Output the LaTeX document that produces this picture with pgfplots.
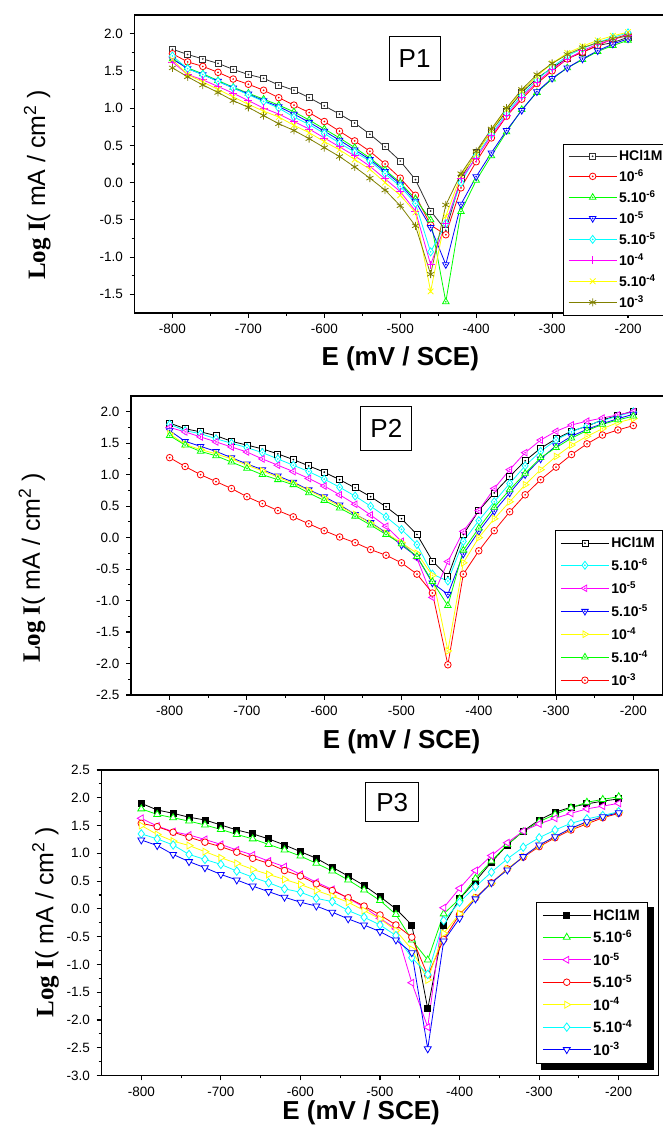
\documentclass[border=0pt]{standalone}
\usepackage{fontspec}
\setmainfont{Liberation Sans}
\newfontfamily\timesfont{Liberation Serif}
\usepackage{pgfplots}
\usepackage{pgfplotstable}
\pgfplotsset{compat=1.18}

% open marks with a small dot in the centre (Origin style)
\pgfdeclareplotmark{dsq}{\pgfuseplotmark{square*}\pgfpathcircle{\pgfpointorigin}{0.4pt}\pgfusepathqstroke}
\pgfdeclareplotmark{dcirc}{\pgfuseplotmark{*}\pgfpathcircle{\pgfpointorigin}{0.4pt}\pgfusepathqstroke}
\pgfdeclareplotmark{dtri}{\pgfuseplotmark{triangle*}\pgfpathcircle{\pgfpointorigin}{0.4pt}\pgfusepathqstroke}
\pgfdeclareplotmark{ddia}{\pgfuseplotmark{diamond*}\pgfpathcircle{\pgfpointorigin}{0.4pt}\pgfusepathqstroke}

\definecolor{ogreen}{RGB}{0,255,0}
\definecolor{oyellow}{RGB}{255,255,0}
\definecolor{ocyan}{RGB}{0,255,255}
\definecolor{omag}{RGB}{255,0,255}
\definecolor{oblue}{RGB}{0,0,255}
\definecolor{ored}{RGB}{255,0,0}
\definecolor{oolive}{RGB}{128,128,0}
\definecolor{ogray}{RGB}{50,50,50}

\pgfplotstableread{
E hcl a b c d e f g
-800 1.79 1.73 1.66 1.66 1.70 1.62 1.65 1.54
-780 1.72 1.62 1.54 1.53 1.53 1.45 1.45 1.42
-760 1.66 1.56 1.46 1.45 1.45 1.38 1.35 1.31
-740 1.60 1.48 1.37 1.36 1.36 1.29 1.25 1.21
-720 1.52 1.39 1.28 1.27 1.27 1.20 1.15 1.10
-700 1.45 1.32 1.20 1.19 1.18 1.10 1.05 1.01
-680 1.40 1.24 1.12 1.10 1.09 1.00 0.96 0.90
-660 1.31 1.14 1.04 1.02 1.00 0.92 0.88 0.79
-640 1.24 1.04 0.95 0.92 0.88 0.82 0.77 0.70
-620 1.14 0.94 0.84 0.81 0.78 0.72 0.67 0.59
-600 1.03 0.82 0.72 0.69 0.66 0.60 0.55 0.47
-580 0.92 0.69 0.60 0.57 0.53 0.48 0.44 0.35
-560 0.80 0.56 0.47 0.44 0.41 0.36 0.31 0.21
-540 0.65 0.42 0.33 0.31 0.29 0.22 0.18 0.06
-520 0.48 0.25 0.17 0.15 0.12 0.05 0.00 -0.10
-500 0.29 0.06 0.00 -0.02 -0.05 -0.12 -0.17 -0.31
-480 0.04 -0.17 -0.22 -0.25 -0.28 -0.38 -0.40 -0.58
-460 -0.38 -0.57 -0.50 -0.60 -0.93 -1.10 -1.46 -1.23
-440 -0.64 -0.70 -1.60 -1.10 -0.55 -0.55 -0.45 -0.30
-420 0.06 -0.07 -0.39 -0.29 0.00 0.05 0.10 0.12
-400 0.40 0.28 0.03 0.08 0.36 0.33 0.38 0.42
-380 0.69 0.60 0.36 0.40 0.65 0.63 0.70 0.72
-360 0.96 0.89 0.68 0.70 0.93 0.90 0.98 1.00
-340 1.21 1.12 0.98 0.97 1.17 1.15 1.23 1.25
-320 1.40 1.33 1.21 1.22 1.38 1.35 1.43 1.45
-300 1.54 1.50 1.39 1.40 1.55 1.52 1.60 1.60
-280 1.67 1.66 1.54 1.54 1.70 1.66 1.74 1.72
-260 1.75 1.75 1.65 1.66 1.80 1.77 1.83 1.81
-240 1.84 1.84 1.76 1.77 1.88 1.86 1.91 1.88
-220 1.88 1.93 1.84 1.86 1.95 1.92 1.97 1.93
-200 1.95 1.99 1.91 1.93 2.01 1.98 2.02 1.97
}\pone

\pgfplotstableread{
E hcl c m b y g r
-800 1.82 1.80 1.75 1.70 1.65 1.62 1.27
-780 1.73 1.70 1.68 1.53 1.48 1.47 1.13
-760 1.68 1.65 1.60 1.45 1.40 1.37 1.00
-740 1.62 1.57 1.52 1.37 1.33 1.30 0.89
-720 1.53 1.50 1.44 1.27 1.25 1.20 0.78
-700 1.47 1.43 1.36 1.17 1.15 1.10 0.65
-680 1.41 1.35 1.25 1.08 1.06 1.00 0.54
-660 1.33 1.25 1.15 0.98 0.96 0.92 0.43
-640 1.24 1.15 1.05 0.88 0.86 0.84 0.33
-620 1.14 1.05 0.94 0.76 0.75 0.71 0.22
-600 1.04 0.93 0.82 0.65 0.63 0.59 0.11
-580 0.92 0.80 0.68 0.52 0.50 0.47 0.01
-560 0.79 0.66 0.53 0.37 0.37 0.34 -0.08
-540 0.65 0.50 0.36 0.24 0.23 0.20 -0.19
-520 0.49 0.33 0.18 0.08 0.07 0.05 -0.28
-500 0.30 0.13 -0.06 -0.12 -0.08 -0.10 -0.40
-480 0.05 -0.11 -0.33 -0.30 -0.25 -0.30 -0.58
-460 -0.37 -0.58 -0.95 -0.72 -0.60 -0.70 -0.88
-440 -0.62 -0.69 -0.38 -0.90 -1.80 -1.08 -2.02
-420 0.05 -0.06 0.10 -0.26 -0.40 -0.20 -0.58
-400 0.43 0.27 0.43 0.10 0.00 0.15 -0.21
-380 0.71 0.57 0.78 0.42 0.30 0.48 0.11
-360 0.97 0.86 1.08 0.71 0.57 0.76 0.41
-340 1.22 1.14 1.35 1.00 0.84 1.02 0.68
-320 1.42 1.37 1.55 1.25 1.08 1.27 0.92
-300 1.57 1.55 1.69 1.46 1.29 1.43 1.12
-280 1.69 1.68 1.79 1.61 1.47 1.58 1.32
-260 1.77 1.78 1.85 1.72 1.61 1.70 1.49
-240 1.87 1.86 1.90 1.81 1.73 1.80 1.63
-220 1.94 1.93 1.95 1.89 1.83 1.87 1.71
-200 2.01 2.00 2.00 1.96 1.89 1.93 1.78
}\ptwo

\pgfplotstableread{
E hcl g m r y c b
-800 1.90 1.80 1.63 1.54 1.50 1.35 1.24
-780 1.78 1.70 1.49 1.48 1.34 1.26 1.14
-760 1.72 1.64 1.39 1.38 1.22 1.15 0.98
-740 1.65 1.58 1.33 1.29 1.14 0.98 0.85
-720 1.60 1.51 1.25 1.20 1.03 0.89 0.74
-700 1.51 1.43 1.16 1.12 0.92 0.80 0.62
-680 1.42 1.34 1.06 1.02 0.82 0.68 0.52
-660 1.35 1.26 0.97 0.91 0.71 0.57 0.41
-640 1.26 1.16 0.86 0.82 0.62 0.47 0.31
-620 1.15 1.06 0.76 0.69 0.53 0.36 0.21
-600 1.03 0.95 0.62 0.59 0.44 0.30 0.12
-580 0.91 0.82 0.48 0.45 0.33 0.19 0.05
-560 0.75 0.68 0.35 0.33 0.23 0.13 -0.06
-540 0.59 0.52 0.19 0.20 0.12 -0.03 -0.18
-520 0.42 0.34 0.03 0.05 -0.03 -0.15 -0.29
-500 0.22 0.15 -0.17 -0.11 -0.18 -0.29 -0.41
-480 0.00 -0.10 -0.36 -0.29 -0.39 -0.48 -0.56
-460 -0.29 -0.56 -1.33 -0.51 -0.73 -0.88 -0.79
-440 -1.80 -0.92 -2.13 -1.20 -1.28 -1.18 -2.52
-420 -0.30 -0.09 0.02 -0.55 -0.44 -0.21 -0.58
-400 0.18 0.18 0.37 -0.10 -0.09 0.12 -0.17
-380 0.50 0.55 0.69 0.20 0.20 0.40 0.18
-360 0.84 0.86 0.96 0.47 0.46 0.66 0.47
-340 1.15 1.16 1.19 0.72 0.72 0.90 0.70
-320 1.40 1.39 1.40 0.93 0.94 1.11 0.94
-300 1.60 1.57 1.53 1.12 1.14 1.28 1.15
-280 1.74 1.70 1.63 1.28 1.30 1.42 1.30
-260 1.83 1.82 1.72 1.42 1.44 1.54 1.45
-240 1.89 1.92 1.80 1.53 1.56 1.62 1.57
-220 1.94 1.97 1.85 1.64 1.66 1.68 1.66
-200 1.98 2.02 1.90 1.72 1.74 1.75 1.73
}\pthree

\tikzset{
  tbox/.style={draw=black, line width=0.9pt, fill=white, minimum width=51pt, minimum height=44pt, inner sep=0pt, font=\fontsize{26}{26}\selectfont},
}

\pgfplotsset{
  pol/.style={
    scale only axis,
    xmin=-850, xmax=-150,
    xtick={-800,-700,...,-200},
    minor x tick num=1, minor y tick num=1,
    tick align=outside, xtick pos=bottom, ytick pos=left,
    major tick length=5pt, minor tick length=3pt,
    tick style={black, line width=1.1pt},
    axis line style={line width=1.6pt},
    tick label style={font=\fontsize{13.5}{13.5}\selectfont},
    /pgf/number format/assume math mode=true,
    yticklabel style={/pgf/number format/fixed, /pgf/number format/fixed zerofill,
      /pgf/number format/precision=1, xshift=-3pt},
    xticklabel style={yshift=-3pt},
    xlabel={\bfseries E (mV / SCE)},
    ylabel={{\timesfont\bfseries Log I}( mA / cm\textsuperscript{2} )},
    xlabel style={font=\fontsize{26}{26}\selectfont, anchor=center},
    ylabel style={font=\fontsize{25}{25}\selectfont, anchor=center},
    every axis plot/.append style={line width=0.8pt},
    legend cell align=left,
    legend image code/.code={\draw[mark repeat=2,mark phase=2] plot coordinates {(0pt,0pt) (24pt,0pt) (48pt,0pt)};},
  },
}

\begin{document}
\begin{tikzpicture}

% ---------- P1 ----------
\begin{axis}[pol,
  at={(134.5pt,818pt)}, anchor=south west, width=531.5pt, height=298pt,
  ymin=-1.75, ymax=2.25, ytick={-1.5,-1,...,2},
  xlabel style={at={(axis description cs:0.5,-0.155)}},
  ylabel style={at={(axis description cs:-0.183,0.43)}},
  legend style={at={(rel axis cs:0.806,0.567)}, anchor=north west, draw=black, line width=0.8pt,
    font=\bfseries\fontsize{14}{14}\selectfont, row sep=3.5pt, inner xsep=5pt, inner ysep=4pt},
]
\addplot[color=ogray, mark=dsq, mark size=3pt, mark options={fill=white}] table[x=E,y=hcl]{\pone};
\addplot[color=ored, mark=dcirc, mark size=3.3pt, mark options={fill=white}] table[x=E,y=a]{\pone};
\addplot[color=ogreen, mark=dtri, mark size=3.8pt, mark options={fill=white}] table[x=E,y=b]{\pone};
\addplot[color=oblue, mark=dtri, mark size=3.8pt, mark options={fill=white, rotate=180}] table[x=E,y=c]{\pone};
\addplot[color=ocyan, mark=ddia, mark size=4pt, mark options={fill=white}] table[x=E,y=d]{\pone};
\addplot[color=omag, mark=+, mark size=4pt] table[x=E,y=e]{\pone};
\addplot[color=oyellow, mark=x, mark size=4pt] table[x=E,y=f]{\pone};
\addplot[color=oolive, mark=asterisk, mark size=4pt] table[x=E,y=g]{\pone};
\legend{HCl1M, 10\textsuperscript{-6}, 5.10\textsuperscript{-6}, 10\textsuperscript{-5}, 5.10\textsuperscript{-5}, 10\textsuperscript{-4}, 5.10\textsuperscript{-4}, 10\textsuperscript{-3}}
\node[tbox] at (rel axis cs:0.527,0.854) {P1};
\end{axis}

% ---------- P2 ----------
\begin{axis}[pol,
  at={(131pt,436pt)}, anchor=south west, width=541pt, height=299pt,
  ymin=-2.5, ymax=2.25, ytick={-2.5,-2,...,2},
  xlabel style={at={(axis description cs:0.5,-0.157)}},
  ylabel style={at={(axis description cs:-0.183,0.425)}},
  legend style={at={(rel axis cs:0.784,0.552)}, anchor=north west, draw=black, line width=0.8pt,
    font=\bfseries\fontsize{14}{14}\selectfont, row sep=5.5pt, inner xsep=5pt, inner ysep=5pt},
]
\addplot[color=black, mark=dsq, mark size=3pt, mark options={fill=white}] table[x=E,y=hcl]{\ptwo};
\addplot[color=ocyan, mark=ddia, mark size=4pt, mark options={fill=white}] table[x=E,y=c]{\ptwo};
\addplot[color=omag, mark=dtri, mark size=3.8pt, mark options={fill=white, rotate=90}] table[x=E,y=m]{\ptwo};
\addplot[color=oblue, mark=dtri, mark size=3.8pt, mark options={fill=white, rotate=180}] table[x=E,y=b]{\ptwo};
\addplot[color=oyellow, mark=dtri, mark size=3.8pt, mark options={fill=white, rotate=-90}] table[x=E,y=y]{\ptwo};
\addplot[color=ogreen, mark=dtri, mark size=3.8pt, mark options={fill=white}] table[x=E,y=g]{\ptwo};
\addplot[color=ored, mark=dcirc, mark size=3.3pt, mark options={fill=white}] table[x=E,y=r]{\ptwo};
\legend{HCl1M, 5.10\textsuperscript{-6}, 10\textsuperscript{-5}, 5.10\textsuperscript{-5}, 10\textsuperscript{-4}, 5.10\textsuperscript{-4}, 10\textsuperscript{-3}}
\node[tbox] at (rel axis cs:0.472,0.891) {P2};
\end{axis}

% ---------- P3 ----------
\begin{axis}[pol,
  at={(101.5pt,55.5pt)}, anchor=south west, width=557pt, height=305.5pt,
  ymin=-3, ymax=2.5, ytick={-3,-2.5,...,2.5},
  xlabel style={at={(axis description cs:0.466,-0.121)}},
  ylabel style={at={(axis description cs:-0.1005,0.502)}},
  legend style={name=leg3, at={(rel axis cs:0.78,0.568)}, anchor=north west, draw=black, line width=0.8pt,
    fill=white, font=\bfseries\fontsize{15}{15}\selectfont, row sep=4.5pt, inner xsep=6pt, inner ysep=5pt},
]
\addplot[color=black, mark=square*, mark size=3pt, mark options={fill=black}] table[x=E,y=hcl]{\pthree};
\addplot[color=ogreen, mark=triangle*, mark size=4pt, mark options={fill=white}] table[x=E,y=g]{\pthree};
\addplot[color=omag, mark=triangle*, mark size=4pt, mark options={fill=white, rotate=90}] table[x=E,y=m]{\pthree};
\addplot[color=ored, mark=*, mark size=3.3pt, mark options={fill=white}] table[x=E,y=r]{\pthree};
\addplot[color=oyellow, mark=triangle*, mark size=4pt, mark options={fill=white, rotate=-90}] table[x=E,y=y]{\pthree};
\addplot[color=ocyan, mark=diamond*, mark size=4.2pt, mark options={fill=white}] table[x=E,y=c]{\pthree};
\addplot[color=oblue, mark=triangle*, mark size=4pt, mark options={fill=white, rotate=180}] table[x=E,y=b]{\pthree};
\legend{HCl1M, 5.10\textsuperscript{-6}, 10\textsuperscript{-5}, 5.10\textsuperscript{-5}, 10\textsuperscript{-4}, 5.10\textsuperscript{-4}, 10\textsuperscript{-3}}
\node[tbox, minimum width=53pt, minimum height=39pt] at (rel axis cs:0.522,0.894) {P3};
\end{axis}
% black offset shadow of the P3 legend box
\fill[black] ([yshift=-5pt]leg3.north east) rectangle ([xshift=6pt,yshift=-6pt]leg3.south east);
\fill[black] ([xshift=5pt]leg3.south west) rectangle ([xshift=6pt,yshift=-6pt]leg3.south east);

\pgfresetboundingbox
\useasboundingbox (0pt,0pt) rectangle (663pt,1131pt);
\end{tikzpicture}
\end{document}
